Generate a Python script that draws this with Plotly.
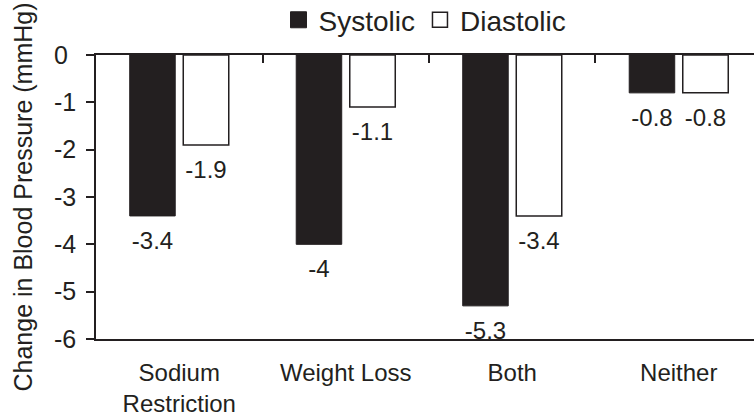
import plotly.graph_objects as go

CATEGORIES = ["Sodium<br>Restriction", "Weight Loss", "Both", "Neither"]
SYSTOLIC = [-3.4, -4.0, -5.3, -0.8]
DIASTOLIC = [-1.9, -1.1, -3.4, -0.8]
SERIES_NAMES = ["Systolic", "Diastolic"]
Y_TICKS = [0, -1, -2, -3, -4, -5, -6]
Y_TICK_TEXT = ["0\u2004", "-1", "-2", "-3", "-4", "-5", "-6"]
Y_TITLE = "Change in Blood Pressure (mmHg)"

INK = "#231f20"
FONT = "Liberation Sans, Arial, sans-serif"
GAP = 0.357


def fmt(v):
    return ("%g" % v)


fig = go.Figure()
fig.add_trace(go.Bar(
    x=CATEGORIES, y=SYSTOLIC, name=SERIES_NAMES[0], showlegend=False,
    marker=dict(color=INK, line=dict(color=INK, width=1)),
))
fig.add_trace(go.Bar(
    x=CATEGORIES, y=DIASTOLIC, name=SERIES_NAMES[1], showlegend=False,
    marker=dict(color="white", line=dict(color=INK, width=1.5)),
))
# value labels below the bar ends (grouped like the bars)
for vals in (SYSTOLIC, DIASTOLIC):
    fig.add_trace(go.Scatter(
        x=CATEGORIES, y=vals, mode="markers+text", showlegend=False,
        marker=dict(size=22, color="rgba(0,0,0,0)"),
        text=[fmt(v) for v in vals], textposition="bottom center",
        textfont=dict(size=24, color=INK, family=FONT),
        cliponaxis=False, hoverinfo="skip",
    ))
# legend entries (no visible points) placed on the top axis
fig.add_trace(go.Scatter(
    x=CATEGORIES, y=[None] * len(CATEGORIES), mode="markers", name=SERIES_NAMES[0],
    xaxis="x2", marker=dict(symbol="square", size=16, color=INK, line=dict(color=INK, width=1)),
))
fig.add_trace(go.Scatter(
    x=CATEGORIES, y=[None] * len(CATEGORIES), mode="markers", name=SERIES_NAMES[1],
    xaxis="x2", marker=dict(symbol="square", size=15, color="white", line=dict(color=INK, width=1.5)),
))

XRANGE = [-0.5, 3.452]
fig.update_layout(
    width=754, height=417,
    margin=dict(l=96, r=0, t=55, b=78, autoexpand=False),
    paper_bgcolor="white", plot_bgcolor="white",
    font=dict(family=FONT, color=INK, size=24),
    barmode="group", bargap=GAP, bargroupgap=0.15,
    scattermode="group", scattergap=GAP,
    showlegend=True,
    legend=dict(orientation="h", x=0.5, xanchor="center", xref="paper",
                y=1.123, yanchor="middle", yref="paper",
                font=dict(size=28, color=INK, family=FONT),
                itemsizing="trace", bgcolor="rgba(0,0,0,0)"),
    xaxis=dict(type="category", categoryorder="array", categoryarray=CATEGORIES,
               range=XRANGE, showline=True, linecolor=INK, linewidth=1.5,
               ticks="", showgrid=False, zeroline=False,
               tickfont=dict(size=24, color=INK, family=FONT),
               ticklabelstandoff=11),
    xaxis2=dict(type="category", categoryorder="array", categoryarray=CATEGORIES,
                range=XRANGE, overlaying="x", side="top", anchor="y",
                showline=True, linecolor=INK, linewidth=1.5,
                ticks="inside", tickson="boundaries", ticklen=8, tickwidth=1.5,
                tickcolor=INK, showticklabels=False, showgrid=False, zeroline=False),
    yaxis=dict(range=[-6, 0], tickvals=Y_TICKS, ticktext=Y_TICK_TEXT,
               showline=True, linecolor=INK, linewidth=1.5,
               ticks="outside", ticklen=8, tickwidth=1.5, tickcolor=INK,
               showgrid=False, zeroline=False,
               tickfont=dict(size=25, color=INK, family=FONT),
               ticklabelstandoff=5,
               title=dict(text=Y_TITLE, font=dict(size=25, color=INK, family=FONT), standoff=14)),
)

fig.write_html("out.html")
